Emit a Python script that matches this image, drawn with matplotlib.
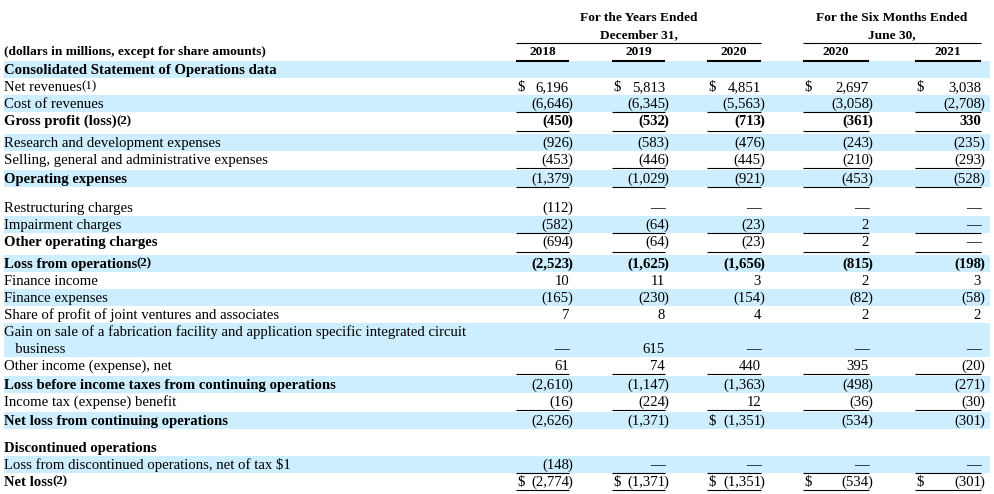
import matplotlib
matplotlib.use("Agg")
import matplotlib.pyplot as plt

# ---- data ----
col_years = ["2018", "2019", "2020", "2020", "2021"]
group_titles = [("For the Years Ended", "December 31,"), ("For the Six Months Ended", "June 30,")]
units_note = "(dollars in millions, except for share amounts)"

net_revenues = [6196, 5813, 4851, 2697, 3038]
cost_of_revenues = [-6646, -6345, -5563, -3058, -2708]
gross_profit = [-450, -532, -713, -361, 330]
rnd_expenses = [-926, -583, -476, -243, -235]
sga_expenses = [-453, -446, -445, -210, -293]
operating_expenses = [-1379, -1029, -921, -453, -528]
restructuring = [-112, None, None, None, None]
impairment = [-582, -64, -23, 2, None]
other_operating = [-694, -64, -23, 2, None]
loss_from_ops = [-2523, -1625, -1656, -815, -198]
finance_income = [10, 11, 3, 2, 3]
finance_expenses = [-165, -230, -154, -82, -58]
share_of_jv = [7, 8, 4, 2, 2]
gain_on_sale = [None, 615, None, None, None]
other_income = [61, 74, 440, 395, -20]
loss_before_tax = [-2610, -1147, -1363, -498, -271]
income_tax = [-16, -224, 12, -36, -30]
net_loss_cont = [-2626, -1371, -1351, -534, -301]
loss_discontinued = [-148, None, None, None, None]
net_loss = [-2774, -1371, -1351, -534, -301]

ALL = [0, 1, 2, 3, 4]
# label, values, bold label, bold values, footnote, $ columns, underline, band, height
rows = [
    ("Consolidated Statement of Operations data", None, True, False, "", [], False, True, 17),
    ("Net revenues", net_revenues, False, False, "(1)", ALL, False, False, 17),
    ("Cost of revenues", cost_of_revenues, False, False, "", [], True, True, 17),
    ("Gross profit (loss)", gross_profit, True, True, "(2)", [], True, False, 22),
    ("Research and development expenses", rnd_expenses, False, False, "", [], False, True, 17),
    ("Selling, general and administrative expenses", sga_expenses, False, False, "", [], True, False, 19),
    ("Operating expenses", operating_expenses, True, False, "", [], True, True, 17),
    (None, None, False, False, "", [], False, False, 12),
    ("Restructuring charges", restructuring, False, False, "", [], False, False, 17),
    ("Impairment charges", impairment, False, False, "", [], True, True, 17),
    ("Other operating charges", other_operating, True, False, "", [], True, False, 22),
    ("Loss from operations", loss_from_ops, True, True, "(2)", [], False, True, 17),
    ("Finance income", finance_income, False, False, "", [], False, False, 17),
    ("Finance expenses", finance_expenses, False, False, "", [], False, True, 17),
    ("Share of profit of joint ventures and associates", share_of_jv, False, False, "", [], False, False, 17),
    ("Gain on sale of a fabrication facility and application specific integrated circuit\n   business",
     gain_on_sale, False, False, "", [], False, True, 34),
    ("Other income (expense), net", other_income, False, False, "", [], True, False, 19),
    ("Loss before income taxes from continuing operations", loss_before_tax, True, False, "", [], False, True, 17),
    ("Income tax (expense) benefit", income_tax, False, False, "", [], True, False, 19),
    ("Net loss from continuing operations", net_loss_cont, True, False, "", [2], False, True, 16),
    (None, None, False, False, "", [], False, False, 11),
    ("Discontinued operations", None, True, False, "", [], False, False, 17),
    ("Loss from discontinued operations, net of tax $1", loss_discontinued, False, False, "", [], True, True, 17),
    ("Net loss", net_loss, True, False, "(2)", ALL, True, False, 19),
]

col_left = [516, 612, 707, 803, 915]
col_right = [569, 665, 761, 869, 981]
band_color = "#CCEEFF"
FONT = "Liberation Serif"
FS = 10.6
HFS = 9.6

fig = plt.figure(figsize=(9.95, 4.94), dpi=100)
ax = fig.add_axes([0, 0, 1, 1])
ax.set_xlim(0, 995)
ax.set_ylim(494, 0)
ax.axis("off")


def fmt(v):
    if v is None:
        return "\u2014"
    if v < 0:
        return "({:,}".format(-v)
    return "{:,}".format(v)


# header
for (t1, t2), cols in zip(group_titles, [(0, 2), (3, 4)]):
    xc = (col_left[cols[0]] + col_right[cols[1]]) / 2
    ax.text(xc, 18, t1, ha="center", va="center", fontsize=HFS, fontweight="bold", family=FONT)
    ax.text(xc, 35, t2, ha="center", va="center", fontsize=HFS, fontweight="bold", family=FONT)
    ax.plot([col_left[cols[0]], col_right[cols[1]]], [43, 43], color="black", lw=0.8, solid_capstyle="butt")
for i, yr in enumerate(col_years):
    ax.text((col_left[i] + col_right[i]) / 2, 52, yr, ha="center", va="center",
            fontsize=HFS, fontweight="bold", family=FONT)
    ax.plot([col_left[i], col_right[i]], [61, 61], color="black", lw=1.5, solid_capstyle="butt")
ax.text(4, 52, units_note, ha="left", va="center", fontsize=HFS, fontweight="bold", family=FONT)

top = 61
for label, vals, lbold, vbold, note, dollars, uline, band, h in rows:
    if band:
        ax.fill_between([4, 990], top, top + 17 if h < 30 else top + h, color=band_color, lw=0, zorder=0)
    base = top + 13
    if label is not None:
        lines = label.split("\n")
        for k, ln in enumerate(lines):
            t = ax.text(4, base + 17 * k, ln, ha="left", va="baseline", fontsize=FS,
                        fontweight="bold" if lbold else "normal", family=FONT)
        if note:
            ax.annotate(note, xy=(1, 0), xycoords=t, xytext=(-0.5, 1.0), textcoords="offset points",
                        ha="left", va="bottom", fontsize=FS - 1.3,
                        fontweight="bold" if lbold else "normal", family=FONT)
    if vals is not None:
        vy = base + 17 * (label.count("\n"))
        for i, v in enumerate(vals):
            w = "bold" if vbold else "normal"
            ax.text(col_right[i], vy, fmt(v), ha="right", va="baseline", fontsize=FS, fontweight=w, family=FONT)
            if v is not None and v < 0:
                ax.text(col_right[i] - 1.5, vy, ")", ha="left", va="baseline", fontsize=FS, fontweight=w, family=FONT)
            if i in dollars:
                ax.text(col_left[i] + 1, vy, "$", ha="left", va="baseline", fontsize=FS, family=FONT)
    if uline:
        uy = top + (19 if h >= 22 else 17)
        for i in range(5):
            ax.plot([col_left[i], col_right[i]], [uy, uy], color="black", lw=0.8, solid_capstyle="butt")
    top += h

fig.savefig("out.png", dpi=100)
